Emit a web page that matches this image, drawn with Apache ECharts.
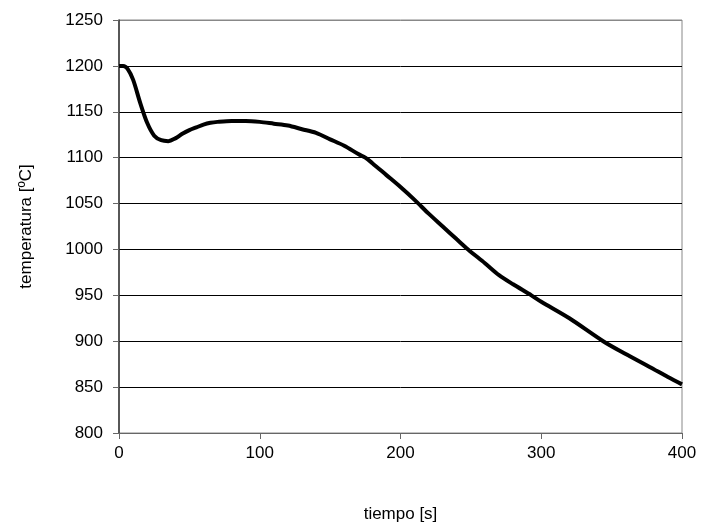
<!DOCTYPE html>
<html>
<head>
<meta charset="utf-8">
<script src="https://cdn.jsdelivr.net/npm/echarts@6/dist/echarts.min.js"></script>
<style>html,body{margin:0;padding:0;background:#fff}#c{width:702px;height:530px}</style>
</head>
<body>
<div id="c"></div>
<script>
var tiempo = [0,3,6,10,15,20,25,30,35,40,45,50,55,60,65,70,80,90,100,110,120,130,140,150,160,170,175,180,190,200,210,220,230,240,248,260,270,280,293,300,320,344,360,377,390,400];
var temperatura = [1200,1200,1197,1185,1160,1138,1124,1119,1118,1121,1126,1130,1133,1136,1138,1139,1140,1140,1139,1137,1135,1131,1127,1120,1113,1104,1100,1094,1081,1068,1054,1039,1025,1011,1000,985,972,962,950,943,925,900,886,872,861,853];
var xTicks = [0,100,200,300,400];
var yTicks = [800,850,900,950,1000,1050,1100,1150,1200,1250];

var data = tiempo.map(function(t,i){return [t, temperatura[i]];});
var splitColors = yTicks.map(function(v,i){return (i===0||i===yTicks.length-1)?'#888':'#000';});
var chart = echarts.init(document.getElementById('c'));
chart.setOption({
  animation:false,
  backgroundColor:'#fff',
  textStyle:{fontFamily:'Liberation Sans, Arial, sans-serif'},
  grid:{left:119,right:20,top:20,bottom:97,show:true,borderColor:'#888',borderWidth:1,backgroundColor:'transparent'},
  xAxis:{
    type:'value',min:xTicks[0],max:xTicks[xTicks.length-1],interval:100,
    name:'tiempo [s]',nameLocation:'middle',nameGap:73,
    nameTextStyle:{fontSize:17,color:'#000',fontFamily:'Liberation Sans'},
    axisLine:{show:true,lineStyle:{color:'#666',width:1}},
    axisTick:{show:true,length:6,lineStyle:{color:'#666'}},
    axisLabel:{fontSize:17,color:'#000',margin:12,fontFamily:'Liberation Sans',formatter:function(v){return String(v);}},
    splitLine:{show:false}
  },
  yAxis:{
    type:'value',min:yTicks[0],max:yTicks[yTicks.length-1],interval:50,
    name:'temperatura [ºC]',nameLocation:'middle',nameGap:84,nameRotate:90,
    nameTextStyle:{fontSize:17,color:'#000',fontFamily:'Liberation Sans'},
    axisLine:{show:true,lineStyle:{color:'#333',width:1.5}},
    axisTick:{show:true,length:6,lineStyle:{color:'#666'}},
    axisLabel:{fontSize:17,color:'#000',margin:16,fontFamily:'Liberation Sans',formatter:function(v){return String(v);}},
    splitLine:{show:true,lineStyle:{color:splitColors,width:1}}
  },
  series:[{
    type:'line',data:data,smooth:0.3,showSymbol:false,symbol:'none',
    lineStyle:{color:'#000',width:4},
    z:5
  }]
});
</script>
</body>
</html>
